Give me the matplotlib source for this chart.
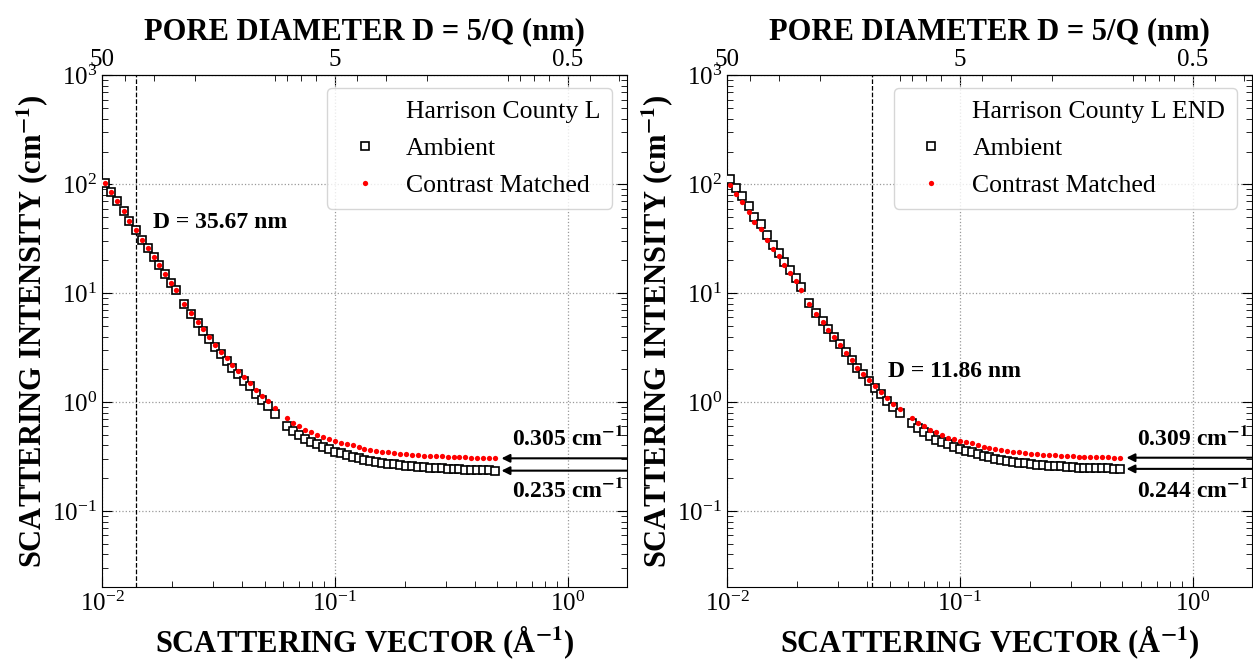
import numpy as np
import matplotlib.pyplot as plt
from matplotlib.ticker import FixedLocator, FixedFormatter, LogLocator, NullFormatter

plt.rcParams['font.family'] = ['Liberation Serif', 'DejaVu Serif']
plt.rcParams['mathtext.fontset'] = 'stix'

# scattering vector (1/A), two detector settings
q_low = [0.0103, 0.0109, 0.0116, 0.0124, 0.0131, 0.0140, 0.0149, 0.0158, 0.0167, 0.0176,
         0.0186, 0.0198, 0.0208, 0.0225, 0.0242, 0.0258, 0.0272, 0.0288, 0.0306, 0.0324,
         0.0345, 0.0362, 0.0384, 0.0407, 0.0431, 0.0460, 0.0488, 0.0517, 0.0553]
q_high = [0.0625, 0.0663, 0.0703, 0.0746, 0.0791, 0.0838, 0.0889, 0.0943, 0.1000, 0.1060,
          0.1125, 0.1193, 0.1265, 0.1341, 0.1422, 0.1508, 0.1600, 0.1697, 0.1799, 0.1908,
          0.2023, 0.2146, 0.2275, 0.2413, 0.2559, 0.2713, 0.2877, 0.3051, 0.3236, 0.3432,
          0.3639, 0.3859, 0.4093, 0.4340, 0.4603, 0.4881]

# Harrison County L
L_amb_low = [102, 85, 71, 57, 46, 38.4, 31, 25.9, 21.6, 18.1, 14.9, 12.5, 10.8, 7.9, 6.5,
             5.3, 4.5, 3.8, 3.2, 2.75, 2.38, 2.05, 1.81, 1.58, 1.40, 1.20, 1.05, 0.93, 0.78]
L_cm_low = [102, 85, 71, 57, 46, 38.4, 31, 25.9, 21.6, 18.1, 14.9, 12.5, 10.8, 7.9, 6.6,
            5.45, 4.65, 3.95, 3.35, 2.9, 2.52, 2.18, 1.93, 1.70, 1.51, 1.30, 1.14, 1.02, 0.88]
L_amb_high = [0.60, 0.54, 0.50, 0.46, 0.43, 0.41, 0.39, 0.37, 0.35, 0.34, 0.325, 0.315,
              0.305, 0.295, 0.288, 0.282, 0.277, 0.272, 0.268, 0.264, 0.261, 0.258, 0.255,
              0.252, 0.250, 0.248, 0.246, 0.244, 0.243, 0.241, 0.240, 0.239, 0.238, 0.237,
              0.236, 0.235]
L_cm_high = [0.71, 0.64, 0.60, 0.56, 0.53, 0.50, 0.48, 0.46, 0.44, 0.42, 0.41, 0.40, 0.39,
             0.375, 0.365, 0.357, 0.350, 0.345, 0.340, 0.336, 0.332, 0.329, 0.326, 0.323,
             0.321, 0.319, 0.317, 0.315, 0.313, 0.312, 0.311, 0.309, 0.308, 0.307, 0.306, 0.305]

# Harrison County L END
E_amb_low = [113, 93, 78, 63, 50, 43, 34, 27.5, 23.6, 19.2, 16.4, 13.7, 11.3, 8.2, 6.6,
             5.6, 4.7, 4.0, 3.4, 2.86, 2.43, 2.07, 1.80, 1.56, 1.36, 1.18, 1.03, 0.91, 0.80]
E_cm_low = [98, 82, 69, 56, 45, 39, 31, 25.5, 22, 18, 15.5, 13, 10.8, 7.9, 6.4, 5.45, 4.6,
            3.93, 3.36, 2.84, 2.43, 2.08, 1.82, 1.59, 1.40, 1.23, 1.09, 0.97, 0.86]
E_amb_high = [0.64, 0.58, 0.53, 0.49, 0.45, 0.43, 0.41, 0.39, 0.37, 0.355, 0.345, 0.333,
              0.322, 0.312, 0.303, 0.296, 0.290, 0.284, 0.279, 0.274, 0.270, 0.267, 0.264,
              0.261, 0.259, 0.257, 0.255, 0.253, 0.251, 0.250, 0.249, 0.248, 0.247, 0.246,
              0.245, 0.244]
E_cm_high = [0.71, 0.64, 0.60, 0.56, 0.53, 0.50, 0.47, 0.46, 0.44, 0.43, 0.42, 0.405, 0.39,
             0.38, 0.37, 0.362, 0.355, 0.350, 0.345, 0.341, 0.337, 0.333, 0.330, 0.327,
             0.324, 0.322, 0.320, 0.318, 0.316, 0.315, 0.314, 0.313, 0.312, 0.311, 0.310, 0.309]

panels = [
    dict(name='Harrison County L', amb=L_amb_low + L_amb_high, cm=L_cm_low + L_cm_high,
         D=35.67, dtxt=(0.0165, 45), top=0.305, bot=0.235),
    dict(name='Harrison County L END', amb=E_amb_low + E_amb_high, cm=E_cm_low + E_cm_high,
         D=11.86, dtxt=(0.049, 1.9), top=0.309, bot=0.244),
]
q = q_low + q_high

fig = plt.figure(figsize=(12.53, 6.68), dpi=100)
lefts = [0.0814, 0.5802]

for p, left in zip(panels, lefts):
    ax = fig.add_axes([left, 0.121, 0.419, 0.766])
    ax.plot(q, p['amb'], 's', mfc='white', mec='black', ms=5.8, mew=1.2, label='Ambient', zorder=3)
    ax.plot(q, p['cm'], 'o', color='red', ms=3.8, mew=0, label='Contrast Matched', zorder=4)
    ax.plot([], [], ' ', label=p['name'])
    ax.set_xscale('log')
    ax.set_yscale('log')
    ax.set_xlim(0.01, 1.8)
    ax.set_ylim(0.02, 1000)
    ax.yaxis.set_major_locator(LogLocator(base=10, numticks=10))
    ax.yaxis.set_minor_locator(LogLocator(base=10, subs=np.arange(2, 10), numticks=10))
    ax.grid(True, which='major', ls=':', color='0.6', lw=0.9)
    ax.tick_params(which='both', direction='in', right=True, labelsize=18)
    ax.tick_params(which='major', length=7)
    ax.tick_params(which='minor', length=4)
    ax.axvline(0.5 / p['D'], color='black', ls='--', lw=0.9)
    ax.text(p['dtxt'][0], p['dtxt'][1], 'D = %.2f nm' % p['D'], fontsize=17, fontweight='bold',
            va='center')

    # plateau arrows
    for val, ty in [(p['top'], 0.47), (p['bot'], 0.155)]:
        ax.annotate('', xy=(0.52, val), xytext=(1.8, val),
                    arrowprops=dict(arrowstyle='-|>', color='black', lw=1.5, shrinkA=0, shrinkB=0,
                                    mutation_scale=12), annotation_clip=False)
        ax.text(0.575, ty, '%.3f cm$^{\\mathbf{-1}}$' % val, fontsize=17, fontweight='bold',
                va='center')

    handles, labels = ax.get_legend_handles_labels()
    order = [2, 0, 1]
    ax.legend([handles[i] for i in order], [labels[i] for i in order], loc='upper right',
              fontsize=18.5, handletextpad=0.6, borderpad=0.45, labelspacing=0.55,
              handlelength=2.0, borderaxespad=0, bbox_to_anchor=(0.971, 0.975))

    ax.set_xlabel('SCATTERING VECTOR (Å$^{\\mathbf{-1}}$)', fontsize=22, fontweight='bold', labelpad=6)
    ax.set_ylabel('SCATTERING INTENSITY (cm$^{\\mathbf{-1}}$)', fontsize=22, fontweight='bold', labelpad=1)

    sec = ax.secondary_xaxis('top', functions=(lambda x: 0.5 / x, lambda d: 0.5 / d))
    sec.xaxis.set_major_locator(FixedLocator([50, 5, 0.5]))
    sec.xaxis.set_major_formatter(FixedFormatter(['50', '5', '0.5']))
    sec.xaxis.set_minor_locator(LogLocator(base=10, subs=np.arange(2, 10), numticks=10))
    sec.xaxis.set_minor_formatter(NullFormatter())
    sec.tick_params(which='both', direction='in', labelsize=18)
    sec.tick_params(which='major', length=7)
    sec.tick_params(which='minor', length=4)
    sec.set_xlabel('PORE DIAMETER D = 5/Q (nm)', fontsize=22, fontweight='bold', labelpad=7)

fig.savefig('out.png', dpi=100)
